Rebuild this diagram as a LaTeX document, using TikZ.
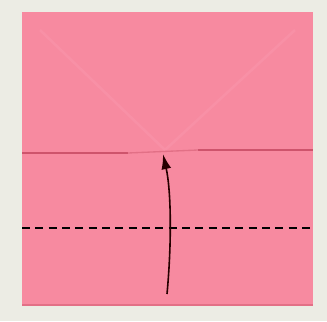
\documentclass[tikz,border=0pt]{standalone}
\usepackage{tikz}
\usetikzlibrary{arrows.meta}
\definecolor{cBG}    {RGB}{236,236,228}
\definecolor{cPaper} {RGB}{247,138,160}
\definecolor{cEdge}  {RGB}{226,112,134}
\definecolor{cCrease}{RGB}{206, 84,108}
\definecolor{cFaint} {RGB}{248,144,166}
\tikzset{
  paper/.style  = {fill=cPaper, draw=cEdge, line width=0.8pt},
  crease/.style = {cCrease, line width=1.4pt},
  faint/.style  = {cFaint, line width=2pt},
  valley/.style = {black, line width=1.3pt, dash pattern=on 6pt off 4pt},
  flip/.style   = {-{Latex[length=4mm,width=2.6mm]}, black!85!red, line width=1.2pt},
}
\begin{document}
\begin{tikzpicture}[x=0.75pt, y=-0.75pt]
  \useasboundingbox[fill=cBG] (0,0) rectangle (327,321);

  % square sheet
  \fill[cPaper] (22,12) rectangle (313,305);
  \draw[cEdge, line width=1.2pt] (22,305) -- (313,305);

  % old diagonal creases
  \draw[faint] (40,30) -- (165,150) -- (295,30);

  % folded-down top flap edge
  \draw[crease] (22,153) -- (128,153);
  \draw[crease] (198,150) -- (313,150);
  \draw[cEdge, line width=1.0pt] (128,153) -- (198,150);

  % valley fold
  \coordinate (vl) at (22,228);
  \coordinate (vr) at (313,228);
  \draw[valley] (vl) -- (vr);

  % fold-up arrow
  \coordinate (from) at (167,294);
  \coordinate (to)   at (163,154);
  \draw[flip] (from) .. controls (172,240) and (171,190) .. (to);
\end{tikzpicture}
\end{document}
